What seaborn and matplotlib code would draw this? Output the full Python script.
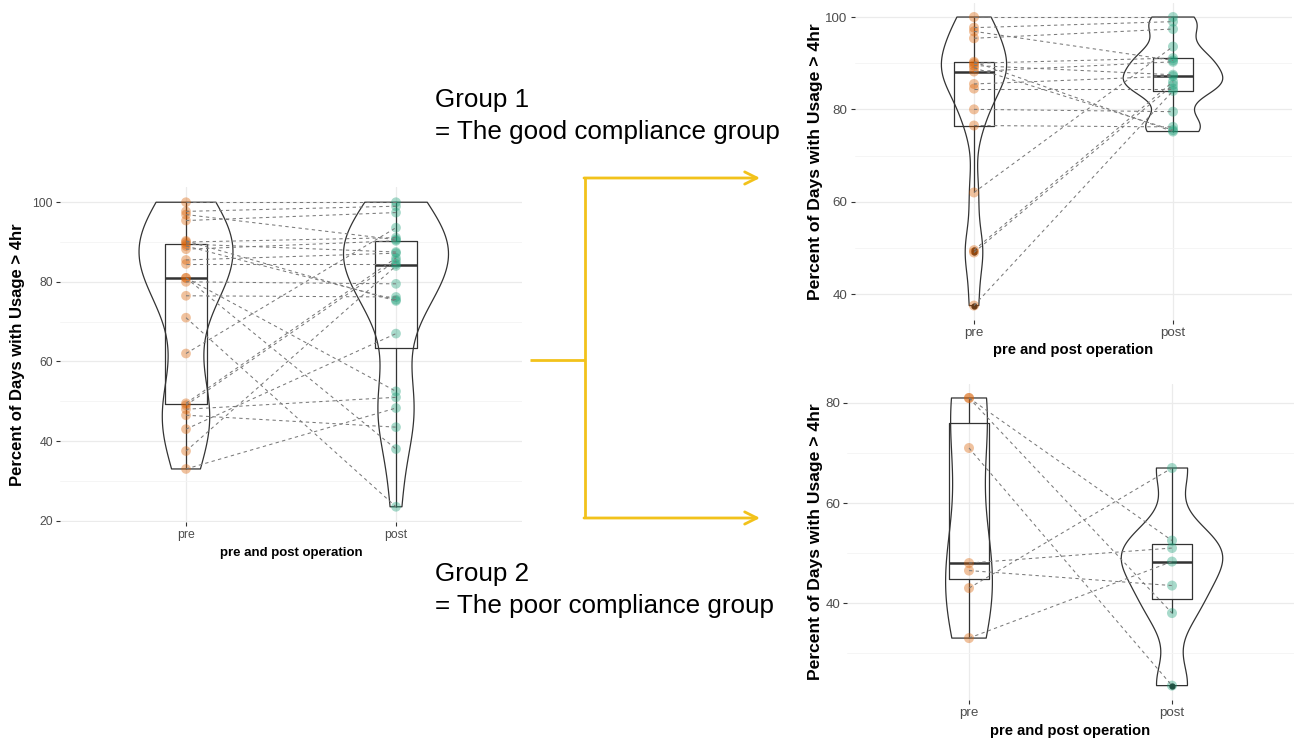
import numpy as np
import pandas as pd
import matplotlib
matplotlib.use("Agg")
import matplotlib.pyplot as plt
from matplotlib.ticker import MultipleLocator
import seaborn as sns

# ---- data -------------------------------------------------------------
stages = ["pre", "post"]
stage_colors = {"pre": "#D95F02", "post": "#1B9E77"}

# good compliance group: paired pre / post values per patient
good_pre = [100, 97.7, 96.9, 95.4, 90.3, 90, 89.5, 89, 88.2, 85.5, 84.5,
            80, 76.5, 62, 49.5, 49, 37.5]
good_post = [100, 99, 90.6, 97.4, 75.2, 91.1, 87.5, 75.5, 90.3, 87.2, 84.5,
             79.5, 76.2, 93.6, 86, 85.3, 84.0]

# poor compliance group
poor_pre = [81, 81, 71, 48, 46.5, 43, 33]
poor_post = [52.5, 38, 23.5, 51, 43.5, 67, 48.3]

y_title = "Percent of Days with Usage > 4hr"
x_title = "pre and post operation"
group_texts = [("Group 1", "= The good compliance group"),
               ("Group 2", "= The poor compliance group")]


def long_table(pre, post):
    n = len(pre)
    return pd.DataFrame({
        "id": list(range(n)) * 2,
        "stage": ["pre"] * n + ["post"] * n,
        "value": list(pre) + list(post),
    })


def nrd0(kde):
    # Silverman's rule of thumb as used by R's density()
    d = np.asarray(kde.dataset).ravel()
    sd = d.std(ddof=1)
    q75, q25 = np.percentile(d, [75, 25])
    h = 0.9 * min(sd, (q75 - q25) / 1.34) * d.size ** -0.2
    return h / sd


def panel(ax, df, fs, xfs, yfs, msize):
    df = df.copy()
    df["pos"] = df["stage"].map({s: i for i, s in enumerate(stages)})
    line_c = "#333333"
    sns.violinplot(data=df, x="stage", y="value", order=stages, ax=ax,
                   fill=False, color=line_c, linewidth=0.9, cut=0,
                   density_norm="area", width=0.5, bw_method=nrd0,
                   inner=None, zorder=2)
    sns.boxplot(data=df, x="stage", y="value", order=stages, ax=ax,
                fill=False, color=line_c, linewidth=0.9, width=0.2,
                whis=1.5, showcaps=False,
                medianprops=dict(linewidth=1.8, color=line_c),
                flierprops=dict(marker="o", markersize=3.5,
                                markerfacecolor="#222222",
                                markeredgecolor="#222222"),
                zorder=3)
    sns.stripplot(data=df, x="stage", y="value", order=stages, hue="stage",
                  palette=stage_colors, jitter=False, size=msize, alpha=0.38,
                  linewidth=0, legend=False, ax=ax, zorder=4)
    sns.lineplot(data=df, x="pos", y="value", units="id", estimator=None,
                 color="#7A7A7A", linewidth=0.75, linestyle=(0, (3.2, 3.2)),
                 ax=ax, zorder=5, legend=False)

    lo, hi = df["value"].min(), df["value"].max()
    pad = 0.05 * (hi - lo)
    ax.set_ylim(lo - pad, hi + pad)
    ax.set_xlim(-0.6, len(stages) - 0.4)
    ax.set_xticks(range(len(stages)))
    ax.set_xticklabels(stages)
    ax.yaxis.set_major_locator(MultipleLocator(20))
    ax.yaxis.set_minor_locator(MultipleLocator(10))
    ax.grid(True, which="major", axis="both", color="#EBEBEB", linewidth=0.9)
    ax.grid(True, which="minor", axis="y", color="#F4F4F4", linewidth=0.6)
    ax.set_axisbelow(True)
    for s in ax.spines.values():
        s.set_visible(False)
    ax.tick_params(axis="both", which="major", length=3, width=0.8,
                   color="#333333", labelcolor="#4D4D4D", labelsize=fs,
                   pad=2, left=True, bottom=True)
    ax.tick_params(axis="both", which="minor", length=0)
    ax.set_xlabel(x_title, fontsize=xfs, fontweight="bold", color="black")
    ax.set_ylabel(y_title, fontsize=yfs, fontweight="bold", color="black")
    ax.xaxis.label.set_va("center")
    ax.yaxis.label.set_va("center")


sns.set_theme(style="white")
plt.rcParams["font.family"] = ["Liberation Sans", "DejaVu Sans"]

W, H = 1296, 739
fig = plt.figure(figsize=(W / 100, H / 100), dpi=100)
fig.patch.set_facecolor("white")


def px_axes(left, top, right, bottom):
    return fig.add_axes([left / W, 1 - bottom / H,
                         (right - left) / W, (bottom - top) / H])


all_df = long_table(good_pre + poor_pre, good_post + poor_post)
good_df = long_table(good_pre, good_post)
poor_df = long_table(poor_pre, poor_post)

ax_all = px_axes(60, 187, 522, 522)
panel(ax_all, all_df, 8.8, 9.5, 12.0, 7.0)
ax_all.yaxis.set_label_coords(-0.091, 0.5)
ax_all.xaxis.set_label_coords(0.5, -0.093)

ax_good = px_axes(854.6, 2.6, 1292.4, 320)
panel(ax_good, good_df, 9.6, 10.6, 12.6, 7.2)
ax_good.yaxis.set_label_coords(-0.09, 0.5)
ax_good.xaxis.set_label_coords(0.5, -0.095)

ax_poor = px_axes(847.2, 383.6, 1293.8, 700)
panel(ax_poor, poor_df, 9.6, 10.6, 12.6, 7.2)
ax_poor.yaxis.set_label_coords(-0.072, 0.5)
ax_poor.xaxis.set_label_coords(0.5, -0.098)

# ---- annotation layer: group captions and connector arrows ------------
ov = fig.add_axes([0, 0, 1, 1], zorder=-1)
ov.set_xlim(0, W)
ov.set_ylim(H, 0)
ov.axis("off")

for (head, sub), base in zip(group_texts, [107, 581]):
    ov.text(435, base, head, fontsize=18.7, va="baseline", ha="left",
            color="black")
    ov.text(435, base + 32, sub, fontsize=18.7, va="baseline", ha="left",
            color="black")

gold = "#F2C21B"
ov.plot([530, 585], [360, 360], color=gold, lw=2, solid_capstyle="butt")
ov.plot([585, 585], [178, 518], color=gold, lw=2, solid_capstyle="butt")
for yy in (178, 518):
    ov.annotate("", xy=(760, yy), xytext=(584, yy),
                arrowprops=dict(arrowstyle="->", color=gold, lw=2,
                                mutation_scale=22, shrinkA=0, shrinkB=0))

fig.savefig("out.png", dpi=100)
